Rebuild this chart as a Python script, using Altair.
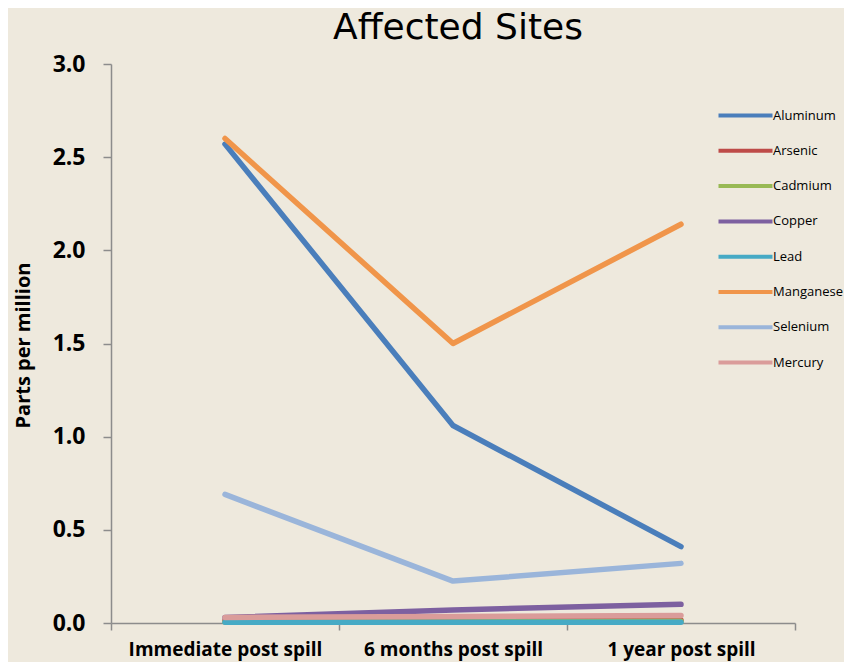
import altair as alt
import pandas as pd

categories = ["Immediate post spill", "6 months post spill", "1 year post spill"]
metals = ["Aluminum", "Arsenic", "Cadmium", "Copper", "Lead", "Manganese", "Selenium", "Mercury"]
aluminum = [2.57, 1.06, 0.41]
arsenic = [0.015, 0.015, 0.015]
cadmium = [0.005, 0.006, 0.01]
copper = [0.03, 0.07, 0.10]
lead = [0.004, 0.004, 0.004]
manganese = [2.60, 1.50, 2.14]
selenium = [0.69, 0.225, 0.32]
mercury = [0.03, 0.035, 0.04]
colors = ["#4A7EBB", "#BE4B48", "#98B954", "#7D60A0", "#46AAC5", "#F0954A", "#9AB5DA", "#DA9C9A"]

series = [aluminum, arsenic, cadmium, copper, lead, manganese, selenium, mercury]
rows = []
for i, (m, vals) in enumerate(zip(metals, series)):
    for j, (c, v) in enumerate(zip(categories, vals)):
        rows.append({"metal": m, "order": i, "period": c, "ppm": v})
df = pd.DataFrame(rows)

FONT = "Open Sans"

chart = alt.Chart(df).mark_line(strokeWidth=5.5, strokeCap="round", strokeJoin="round").encode(
    x=alt.X("period:N", sort=categories, bandPosition=0.5,
            scale=alt.Scale(type="band", paddingInner=0, paddingOuter=0),
            axis=alt.Axis(title=None, labelAngle=0, tickBand="extent", tickSize=7, labelLimit=400,
                          labelPadding=10, labelFontSize=19, labelFontWeight="bold",
                          labelColor="#000000", labelFont=FONT,
                          domainColor="#8c8c8c", tickColor="#8c8c8c", domainWidth=1.5, tickWidth=1.5)),
    y=alt.Y("ppm:Q", scale=alt.Scale(domain=[0, 3], nice=False),
            axis=alt.Axis(title="Parts per million", values=[0, 0.5, 1, 1.5, 2, 2.5, 3], format=".1f",
                          grid=False, tickSize=8, labelPadding=18, labelFontSize=23,
                          labelFontWeight="bold", labelColor="#000000", labelFont=FONT,
                          titleFont=FONT, titleFontSize=20, titleFontWeight="bold", titleColor="#000000",
                          titleAngle=-90, titleX=-88, titleY=281, titleAlign="center", titleBaseline="middle",
                          domainColor="#8c8c8c", tickColor="#8c8c8c", domainWidth=1.5, tickWidth=1.5)),
    color=alt.Color("metal:N", sort=metals, scale=alt.Scale(domain=metals, range=colors),
                    legend=alt.Legend(title=None, orient="none", legendX=600, legendY=44,
                                      symbolType="M0,0H10", symbolSize=116.6, symbolStrokeWidth=4,
                                      labelOffset=47, rowPadding=18.3, padding=0, labelLimit=200,
                                      labelFont=FONT, labelFontSize=13, labelColor="#000000")),
    order=alt.Order("order:Q"),
).properties(
    width=684,
    height=559,
    title=alt.TitleParams("Affected Sites", font="DejaVu Sans", fontSize=36, fontWeight="normal",
                          color="#000000", anchor="middle", offset=6, dx=5),
    background="#EEE9DD",
    padding={"left": 103, "top": 56, "right": 49, "bottom": 39},
    autosize=alt.AutoSizeParams(type="none"),
).configure_view(stroke=None)

chart.save("out.html", embed_options={"renderer": "svg", "actions": False})
